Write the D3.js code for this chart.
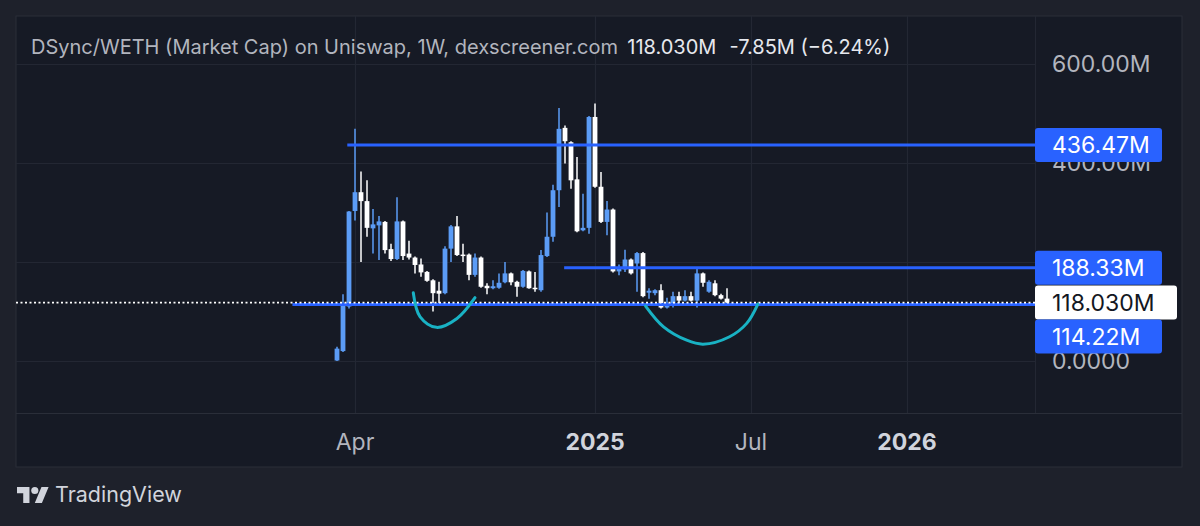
<!DOCTYPE html>
<html><head><meta charset="utf-8">
<script src="https://cdn.jsdelivr.net/npm/d3@7"></script>
<style>html,body{margin:0;padding:0;background:#1e212b;} svg{display:block;font-family:Inter,"Noto Sans",sans-serif;}</style>
</head><body><svg id="c" width="1200" height="526"></svg>
<script>
// ---------------- data ----------------
const dates = ["2024-03-11","2024-03-18","2024-03-25","2024-04-01","2024-04-08","2024-04-15","2024-04-22","2024-04-29",
"2024-05-06","2024-05-13","2024-05-20","2024-05-27","2024-06-03","2024-06-10","2024-06-17","2024-06-24",
"2024-07-01","2024-07-08","2024-07-15","2024-07-22","2024-07-29","2024-08-05","2024-08-12","2024-08-19",
"2024-08-26","2024-09-02","2024-09-09","2024-09-16","2024-09-23","2024-09-30","2024-10-07","2024-10-14",
"2024-10-21","2024-10-28","2024-11-04","2024-11-11","2024-11-18","2024-11-25","2024-12-02","2024-12-09",
"2024-12-16","2024-12-23","2024-12-30","2025-01-06","2025-01-13","2025-01-20","2025-01-27","2025-02-03",
"2025-02-10","2025-02-17","2025-02-24","2025-03-03","2025-03-10","2025-03-17","2025-03-24","2025-03-31",
"2025-04-07","2025-04-14","2025-04-21","2025-04-28","2025-05-05","2025-05-12","2025-05-19","2025-05-26",
"2025-06-02","2025-06-09"];
const openM  = [1,20,110,303,341,323,268,274,281,226,206,282,217,209,195,180,
163,142,137,227,272,215,215,174,209,152,147,148,159,177,160,150,
181,148,143,212,251,345,471,442,367,264,269,493,352,281,306,181,
185,205,197,218,138,137,143,108,115,131,122,131,122,177,140,157,
133,126];
const highM  = [29,135,303,469,383,365,307,293,283,237,331,284,243,211,207,182,
165,160,232,275,293,237,217,217,211,157,163,177,200,179,162,184,
183,180,224,300,356,511,476,444,412,338,495,520,382,323,308,195,
225,207,220,220,147,145,155,128,140,140,143,140,190,179,163,163,
136,147];
const lowM   = [0,18,106,284,200,251,217,204,217,202,204,204,205,177,170,160,
100,111,135,200,212,200,163,170,148,135,145,146,157,153,130,148,
146,140,140,210,241,311,399,348,260,262,257,350,279,254,179,173,
180,175,140,129,126,133,106,106,108,113,120,120,108,150,138,131,
124,116];
const closeM = [25,116,302,341,323,269,276,282,224,206,282,212,209,194,179,162,
137,136,227,272,214,212,174,209,150,147,151,158,177,159,150,182,
147,145,214,251,345,469,444,365,262,269,493,352,281,306,181,190,
205,177,218,131,142,143,108,116,131,122,131,122,177,158,160,133,
126,118.03];

const yTicks = [0,200,400,600];
const yTickLabels = ["0.0000","200.00M","400.00M","600.00M"];
const xTickDates = ["2024-04-01","2025-01-06","2025-07-07","2026-01-05"];
const xTickLabels = ["Apr","2025","Jul","2026"];
const xTickBold = [false,true,false,true];

const levelValues = [436.47,188.33,114.22];
const levelLabels = ["436.47M","188.33M","114.22M"];
const levelStarts = ["2024-03-23","2024-12-01","2024-01-19"];
const lastValue = 118.03;
const lastLabel = "118.030M";

const arc1Dates  = ["2024-06-08","2024-06-16","2024-07-05","2024-07-29","2024-08-19"];
const arc1Values = [138,89,68,86,128];
const arc2Dates  = ["2025-03-06","2025-03-27","2025-04-23","2025-05-12","2025-06-12","2025-07-02","2025-07-15"];
const arc2Values = [111,69,42,34,49,76,115];

const titleText = "DSync/WETH (Market Cap) on Uniswap, 1W, dexscreener.com";
const lastText = "118.030M";
const changeText = "-7.85M (\u22126.24%)";

// ---------------- layout ----------------
const P = {l:16, t:16, r:1035, b:413, axR:1182, axB:467};
const pd = d3.utcParse("%Y-%m-%d");
const svg = d3.select("#c");

const x = d3.scaleUtc().domain([pd("2024-03-11"), pd("2026-01-05")]).range([337, 907]);
const y = d3.scaleLinear().domain([0,600]).range([361, 64]);

const C = {bg:"#1e212b", panel:"#161a25", grid:"#232733", border:"#2a2e39",
  up:"#5b9cf6", down:"#ffffff", level:"#2962ff", arc:"#19b2c4", txt:"#b2b5be", txt2:"#d1d4dc"};

svg.append("rect").attr("width",1200).attr("height",526).attr("fill",C.bg);
svg.append("rect").attr("x",P.l).attr("y",P.t).attr("width",P.axR-P.l).attr("height",P.axB-P.t)
  .attr("fill",C.panel).attr("stroke",C.border).attr("stroke-width",1);

svg.append("defs").append("clipPath").attr("id","plot").append("rect")
  .attr("x",P.l).attr("y",P.t).attr("width",P.r-P.l).attr("height",P.b-P.t);

// grid
const g = svg.append("g");
g.selectAll("line.h").data(yTicks).join("line").attr("class","h")
  .attr("x1",P.l).attr("x2",P.r).attr("y1",d=>Math.round(y(d))+0.5).attr("y2",d=>Math.round(y(d))+0.5)
  .attr("stroke",C.grid).attr("stroke-width",1.2);
g.selectAll("line.v").data(xTickDates).join("line").attr("class","v")
  .attr("y1",P.t).attr("y2",P.b).attr("x1",d=>Math.round(x(pd(d)))+0.5).attr("x2",d=>Math.round(x(pd(d)))+0.5)
  .attr("stroke",C.grid).attr("stroke-width",1.2);
g.append("line").attr("x1",P.l).attr("x2",P.axR).attr("y1",P.b+0.5).attr("y2",P.b+0.5).attr("stroke",C.border);
g.append("line").attr("x1",P.r+0.5).attr("x2",P.r+0.5).attr("y1",P.t).attr("y2",P.b).attr("stroke",C.grid);

// candles
const candles = dates.map((d,i)=>({d:pd(d),o:openM[i],h:highM[i],l:lowM[i],c:closeM[i]}));
const bw = 4.8;
const cg = svg.append("g").attr("clip-path","url(#plot)");
const cs = cg.selectAll("g").data(candles).join("g");
cs.append("line").attr("x1",d=>x(d.d)).attr("x2",d=>x(d.d))
  .attr("y1",d=>y(d.h)).attr("y2",d=>y(d.l))
  .attr("stroke",d=>d.c>=d.o?C.up:C.down).attr("stroke-width",1.5);
cs.append("rect").attr("x",d=>x(d.d)-bw/2).attr("width",bw)
  .attr("y",d=>y(Math.max(d.o,d.c))).attr("height",d=>Math.max(1.5,Math.abs(y(d.o)-y(d.c))))
  .attr("fill",d=>d.c>=d.o?C.up:C.down);

// level lines
const lv = svg.append("g").attr("clip-path","url(#plot)");
lv.selectAll("line").data(levelValues).join("line")
  .attr("x1",(d,i)=>x(pd(levelStarts[i]))).attr("x2",P.r)
  .attr("y1",d=>y(d)).attr("y2",d=>y(d))
  .attr("stroke",C.level).attr("stroke-width",3);

// last price dotted line
svg.append("line").attr("x1",P.l).attr("x2",P.r).attr("y1",y(lastValue)).attr("y2",y(lastValue))
  .attr("stroke","#ffffff").attr("stroke-width",1.6).attr("stroke-dasharray","2,2.5");

// arcs
const line = d3.line().x(d=>x(pd(d[0]))).y(d=>y(d[1])).curve(d3.curveCatmullRom.alpha(0.5));
[[arc1Dates,arc1Values],[arc2Dates,arc2Values]].forEach(([ds,vs])=>{
  svg.append("path").attr("d",line(ds.map((d,i)=>[d,vs[i]])))
    .attr("fill","none").attr("stroke",C.arc).attr("stroke-width",3).attr("stroke-linecap","round");
});

// price boxes (with simple overlap avoidance)
const boxes = levelValues.map((v,i)=>({v,label:levelLabels[i],fill:C.level,tc:"#ffffff",w:127}))
  .concat([{v:lastValue,label:lastLabel,fill:"#ffffff",tc:"#131722",w:142}])
  .sort((a,b)=>b.v-a.v);
const bh = 34;
let prevBottom = -1e9;
boxes.forEach(b=>{ b.top = Math.max(y(b.v)-bh/2, prevBottom); prevBottom = b.top+bh; });

// y axis labels (a label fully hidden behind a price box is not drawn)
const fs = 23;
const visibleTicks = yTicks.map((d,i)=>({d,label:yTickLabels[i]}))
  .filter(t=>!boxes.some(b=>Math.abs(b.top+bh/2-y(t.d))<10));
svg.selectAll("text.yl").data(visibleTicks).join("text").attr("class","yl")
  .attr("x",1052).attr("y",d=>y(d.d)).attr("dy","0.36em")
  .attr("fill",C.txt).attr("font-size",fs).text(d=>d.label);

const bx = svg.selectAll("g.box").data(boxes).join("g").attr("class","box");
bx.append("rect").attr("x",P.r).attr("y",d=>d.top).attr("width",d=>d.w).attr("height",bh)
  .attr("rx",3).attr("fill",d=>d.fill);
bx.append("text").attr("x",1052).attr("y",d=>d.top+bh/2).attr("dy","0.36em")
  .attr("font-size",fs).attr("fill",d=>d.tc).text(d=>d.label);

// x axis labels
svg.selectAll("text.xl").data(xTickDates).join("text").attr("class","xl")
  .attr("x",d=>x(pd(d))).attr("y",450).attr("text-anchor","middle")
  .attr("font-size",fs).attr("font-weight",(d,i)=>xTickBold[i]?700:400)
  .attr("fill",(d,i)=>xTickBold[i]?C.txt2:C.txt).text((d,i)=>xTickLabels[i]);

// title
const t = svg.append("text").attr("x",31).attr("y",54).attr("font-size",20);
t.append("tspan").attr("fill",C.txt).text(titleText);
t.append("tspan").attr("dx",10).attr("fill","#e6e8ee").text(lastText);
t.append("tspan").attr("dx",13).attr("fill","#e6e8ee").text(changeText);

// TradingView logo
svg.append("g").attr("transform","translate(17,483.4) scale(0.89)").attr("fill",C.txt2)
  .call(s=>{
    s.append("path").attr("d","M14 22H7V11H0V4h14v18zM28 22h-8l7.5-18h8L28 22z");
    s.append("circle").attr("cx",20).attr("cy",8).attr("r",4);
  });
svg.append("text").attr("x",55).attr("y",502).attr("font-size",21.5).attr("fill",C.txt2).text("TradingView");
</script></body></html>
